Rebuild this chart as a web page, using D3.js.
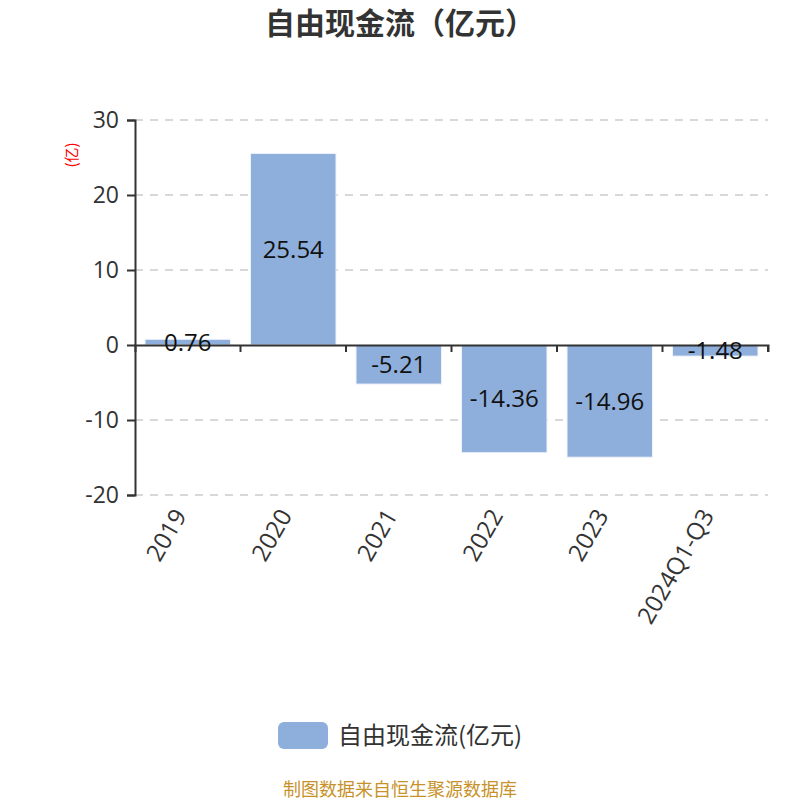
<!DOCTYPE html>
<meta charset="utf-8" />
<script src="https://d3js.org/d3.v7.min.js"></script>
<style>
  body { margin: 0; background: #fff; }
  text { font-family: "Noto Sans CJK SC", "Open Sans", sans-serif; }
  .num { font-family: "Open Sans", "Noto Sans CJK SC", sans-serif; }
</style>
<div id="chart"></div>
<script>
  // data
  const categories = ["2019", "2020", "2021", "2022", "2023", "2024Q1-Q3"];
  const values = [0.76, 25.54, -5.21, -14.36, -14.96, -1.48];
  const yTicks = [-20, -10, 0, 10, 20, 30];
  const seriesName = "自由现金流(亿元)";

  const W = 800, H = 800;
  const margin = { top: 120, right: 32, bottom: 305, left: 135 },
    width = W - margin.left - margin.right,
    height = H - margin.top - margin.bottom;
  const barColor = "#8eaedb";

  const svg = d3.select("#chart").append("svg")
    .attr("width", W).attr("height", H);

  svg.append("text")
    .attr("x", W / 2).attr("y", 34)
    .attr("text-anchor", "middle")
    .style("font-size", "30px").style("font-weight", "bold")
    .attr("fill", "#333")
    .text("自由现金流（亿元）");

  const g = svg.append("g").attr("transform", `translate(${margin.left},${margin.top})`);

  const x = d3.scaleBand().domain(categories).range([0, width]).paddingInner(0.19).paddingOuter(0.095);
  const xTickScale = d3.scaleBand().domain(categories).range([0, width]);
  const y = d3.scaleLinear().domain([-20, 30]).range([height, 0]);

  // grid
  g.append("g").selectAll("line").data(yTicks.filter(d => d !== 0)).join("line")
    .attr("x1", 0).attr("x2", width)
    .attr("y1", d => y(d)).attr("y2", d => y(d))
    .attr("stroke", "#ccc").attr("stroke-width", 1.5).attr("stroke-dasharray", "8,7");

  // y axis
  const yAxis = g.append("g")
    .call(d3.axisLeft(y).tickValues(yTicks).tickSize(8).tickPadding(8).tickFormat(d => String(d)));
  yAxis.select(".domain").attr("stroke", "#333").attr("stroke-width", 2);
  yAxis.selectAll(".tick line").attr("stroke", "#333").attr("stroke-width", 2);
  yAxis.selectAll(".tick text").attr("class", "num").attr("fill", "#333").style("font-size", "23px");

  svg.append("text")
    .attr("transform", `translate(77,155) rotate(-90)`)
    .attr("text-anchor", "middle")
    .attr("fill", "red").style("font-size", "15px")
    .text("(亿)");

  // bars
  g.selectAll("rect.bar").data(values).join("rect")
    .attr("class", "bar")
    .attr("x", (d, i) => x(categories[i]))
    .attr("width", x.bandwidth())
    .attr("y", d => y(Math.max(0, d)))
    .attr("height", d => Math.abs(y(d) - y(0)))
    .attr("fill", barColor)
    .attr("stroke", "#eef2fa").attr("stroke-width", 1);

  // x axis on zero line
  const xAxis = g.append("g")
    .attr("transform", `translate(0,${y(0)})`)
    .call(d3.axisBottom(xTickScale).tickSize(7).tickFormat(""));
  xAxis.select(".domain").attr("stroke", "#333").attr("stroke-width", 2);
  xAxis.selectAll(".tick line")
    .attr("transform", `translate(${xTickScale.bandwidth() / 2},0)`)
    .attr("stroke", "#333").attr("stroke-width", 2);

  // category labels at bottom
  g.append("g").selectAll("text").data(categories).join("text")
    .attr("class", "num")
    .attr("transform", d => `translate(${xTickScale(d) + xTickScale.bandwidth() / 2 - 15},${height + 12}) rotate(-60)`)
    .attr("text-anchor", "end")
    .attr("dy", "0.7em")
    .attr("fill", "#333").style("font-size", "24px")
    .text(d => d);

  // value labels
  g.selectAll("text.val").data(values).join("text")
    .attr("class", "val num")
    .attr("x", (d, i) => x(categories[i]) + x.bandwidth() / 2)
    .attr("y", d => (y(d) + y(0)) / 2)
    .attr("dy", "0.35em")
    .attr("text-anchor", "middle")
    .attr("fill", "#111").style("font-size", "24px")
    .text(d => d.toFixed(2));

  // legend
  const lg = svg.append("g").attr("transform", "translate(278,722)");
  lg.append("rect").attr("width", 50).attr("height", 27).attr("rx", 6).attr("fill", barColor);
  lg.append("text").attr("x", 60).attr("y", 14).attr("dy", "0.35em")
    .attr("fill", "#333").style("font-size", "24px").text(seriesName);

  svg.append("text")
    .attr("x", W / 2).attr("y", 796)
    .attr("text-anchor", "middle")
    .attr("fill", "#c8922a").style("font-size", "18px")
    .text("制图数据来自恒生聚源数据库");
</script>
